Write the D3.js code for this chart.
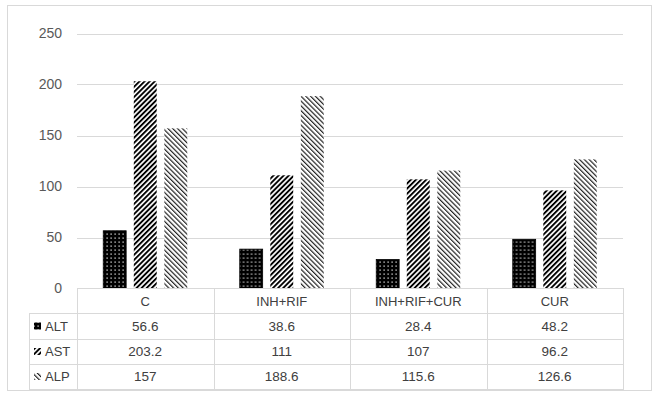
<!DOCTYPE html>
<html><head><meta charset="utf-8">
<script src="https://cdn.jsdelivr.net/npm/d3@7/dist/d3.min.js"></script>
<style>
html,body{margin:0;padding:0;background:#fff;}
text{font-family:"Liberation Sans",Arial,sans-serif;}
</style></head>
<body>
<script>
const categories = ["C", "INH+RIF", "INH+RIF+CUR", "CUR"];
const seriesNames = ["ALT", "AST", "ALP"];
const ALT = [56.6, 38.6, 28.4, 48.2];
const AST = [203.2, 111, 107, 96.2];
const ALP = [157, 188.6, 115.6, 126.6];
const tableLabels = [["56.6","38.6","28.4","48.2"],["203.2","111","107","96.2"],["157","188.6","115.6","126.6"]];
const yTicks = [0, 50, 100, 150, 200, 250];

const seriesValues = [ALT, AST, ALP];
const W = 657, H = 396;
const svg = d3.select("body").append("svg").attr("width", W).attr("height", H);
const defs = svg.append("defs");

// patterns
const pDots = defs.append("pattern").attr("id","pALT").attr("patternUnits","userSpaceOnUse").attr("width",4).attr("height",4);
pDots.append("rect").attr("width",4).attr("height",4).attr("fill","#000");
pDots.append("rect").attr("x",1.5).attr("y",1.5).attr("width",1.2).attr("height",1.2).attr("fill","#fff");

const pUp = defs.append("pattern").attr("id","pAST").attr("patternUnits","userSpaceOnUse").attr("width",3.6).attr("height",8).attr("patternTransform","rotate(45)");
pUp.append("rect").attr("width",3.6).attr("height",8).attr("fill","#fff");
pUp.append("rect").attr("width",1.9).attr("height",8).attr("fill","#000");

const pDown = defs.append("pattern").attr("id","pALP").attr("patternUnits","userSpaceOnUse").attr("width",3.4).attr("height",8).attr("patternTransform","rotate(-45)");
pDown.append("rect").attr("width",3.4).attr("height",8).attr("fill","#fff");
pDown.append("rect").attr("width",1.2).attr("height",8).attr("fill","#222");

const fills = {ALT:"url(#pALT)", AST:"url(#pAST)", ALP:"url(#pALP)"};
const grid = "#d9d9d9";

// outer border
svg.append("rect").attr("x",7.5).attr("y",5.5).attr("width",644).attr("height",385)
  .attr("fill","none").attr("stroke",grid);

const left = 77, right = 623;
const x0 = d3.scaleBand().domain(categories).range([left, right]).padding(0);
const bw = x0.bandwidth();
const groupW = 84;
const x1 = d3.scaleBand().domain(seriesNames).range([(bw-groupW)/2, (bw+groupW)/2]).paddingInner(0.25).paddingOuter(0);
const y = d3.scaleLinear().domain([0,250]).range([288.5, 33.5]);

// gridlines
svg.append("g").selectAll("line").data(yTicks.filter(d=>d>0)).join("line")
  .attr("x1",left).attr("x2",right).attr("y1",d=>Math.round(y(d))+0.5).attr("y2",d=>Math.round(y(d))+0.5)
  .attr("stroke",grid).attr("stroke-width",1);

// y axis labels
const yAxis = d3.axisLeft(y).tickValues(yTicks).tickSize(0).tickPadding(0);
const ga = svg.append("g").attr("transform","translate(62,0)").call(yAxis);
ga.select(".domain").remove();
ga.selectAll("text").attr("fill","#595959").style("font-size","14px").style("font-family","Liberation Sans, Arial, sans-serif");

// bars
const groups = svg.append("g").selectAll("g").data(categories).join("g")
  .attr("transform", d=>`translate(${x0(d)},0)`);
groups.selectAll("rect").data((c,i)=>seriesNames.map((s,j)=>({s, v: seriesValues[j][i]})))
  .join("rect")
  .attr("x", d=>x1(d.s)).attr("width", x1.bandwidth())
  .attr("y", d=>y(d.v)).attr("height", d=>y(0)-y(d.v))
  .attr("fill", d=>fills[d.s])
  .attr("stroke", d=>d.s==="ALT"?"#000":"none").attr("stroke-width",0.8);

// data table
const rowTops = [289, 313, 339, 364, 389];
const tbl = svg.append("g");
const hl = (x1_,x2_,yy)=>tbl.append("line").attr("x1",x1_).attr("x2",x2_).attr("y1",yy+0.5).attr("y2",yy+0.5).attr("stroke",grid);
const vl = (xx,y1_,y2_)=>tbl.append("line").attr("x1",xx+0.5).attr("x2",xx+0.5).attr("y1",y1_).attr("y2",y2_).attr("stroke",grid);
hl(left, right+1, 288);
for (let r=1;r<rowTops.length;r++) hl(29, right+1, rowTops[r]);
vl(29, rowTops[1], rowTops[4]+0.5);
const colEdges = categories.map(c=>Math.round(x0(c))).concat([right]);
colEdges.forEach(cx=>vl(cx, 288, rowTops[4]+0.5));

// header
tbl.selectAll("text.hdr").data(categories).join("text").attr("class","hdr")
  .attr("x", d=>x0(d)+bw/2).attr("y", (rowTops[0]+rowTops[1])/2)
  .attr("dy","0.36em").attr("text-anchor","middle").attr("fill","#404040").style("font-size","13px").text(d=>d);

// rows
seriesNames.forEach((s,j)=>{
  const cy = (rowTops[j+1]+rowTops[j+2])/2;
  tbl.append("rect").attr("x",34).attr("y",cy-3.5).attr("width",7).attr("height",7).attr("fill",fills[s]);
  tbl.append("text").attr("x",45).attr("y",cy).attr("dy","0.36em").attr("fill","#404040").style("font-size","13px").text(s);
  tbl.selectAll(null).data(categories).join("text")
    .attr("x", d=>x0(d)+bw/2).attr("y", cy).attr("dy","0.36em").attr("text-anchor","middle")
    .attr("fill","#404040").style("font-size","13.5px").text((d,i)=>tableLabels[j][i]);
});
</script>
</body></html>
